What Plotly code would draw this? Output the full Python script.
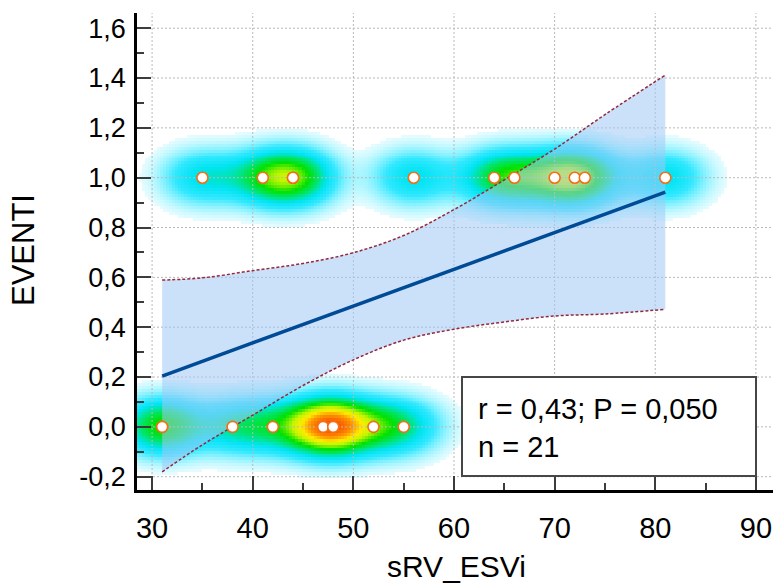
import numpy as np
import plotly.graph_objects as go

# ---- data ----
x_event0 = [31, 31, 38, 42, 47, 47, 48, 48, 52, 55]
x_event1 = [35, 41, 44, 44, 56, 64, 66, 70, 72, 73, 81]

fit_x = [31, 35, 40, 45, 50, 55, 60, 65, 70, 75, 81]
fit_y = [0.204, 0.263, 0.337, 0.411, 0.484, 0.558, 0.632, 0.706, 0.780, 0.853, 0.942]
ci_upper = [0.589, 0.598, 0.627, 0.656, 0.699, 0.768, 0.872, 0.991, 1.115, 1.253, 1.412]
ci_lower = [-0.181, -0.072, 0.047, 0.166, 0.269, 0.348, 0.392, 0.421, 0.445, 0.453, 0.472]

x_ticks = [30, 40, 50, 60, 70, 80, 90]
y_ticks = [-0.2, 0.0, 0.2, 0.4, 0.6, 0.8, 1.0, 1.2, 1.4, 1.6]
y_ticktext = ["-0,2", "0,0", "0,2", "0,4", "0,6", "0,8", "1,0", "1,2", "1,4", "1,6"]

stats_line1 = "r = 0,43; P = 0,050"
stats_line2 = "n = 21"
x_title = "sRV_ESVi"
y_title = "EVENTI"

X_RANGE = [28.5, 91.7]
Y_RANGE = [-0.2534, 1.661]

# ---- point density (kernel estimate from the points) ----
px = np.array(x_event0 + x_event1, dtype=float)
py = np.array([0.0] * len(x_event0) + [1.0] * len(x_event1))
gx = np.arange(X_RANGE[0] - 0.3, X_RANGE[1] + 0.6, 0.3)
gy = np.arange(Y_RANGE[0] - 0.02, Y_RANGE[1] + 0.02, 0.012)
GX, GY = np.meshgrid(gx, gy)
sx, sy = 2.7, 0.074
Z = np.zeros_like(GX)
for a, b in zip(px, py):
    Z += np.exp(-0.5 * (((GX - a) / sx) ** 2 + ((GY - b) / sy) ** 2))
thr = 0.07
zmax = 4.6
Z = np.where(Z < thr, np.nan, np.minimum(Z, zmax))
stops = [
    (thr, "rgb(230,252,255)"),
    (0.25, "rgb(165,245,255)"),
    (0.6, "rgb(50,232,255)"),
    (1.0, "rgb(0,228,242)"),
    (1.5, "rgb(0,228,100)"),
    (1.95, "rgb(0,225,0)"),
    (2.6, "rgb(195,245,0)"),
    (3.1, "rgb(255,235,0)"),
    (3.6, "rgb(255,150,0)"),
    (zmax, "rgb(245,50,0)"),
]
cs = [[(v - thr) / (zmax - thr), c] for v, c in stops]

fig = go.Figure()
fig.add_trace(go.Heatmap(x=gx, y=gy, z=Z, zmin=thr, zmax=zmax, colorscale=cs,
                         showscale=False, zsmooth=False, hoverinfo="skip"))

# grid lines (drawn above the density, like the reference)
for xv in x_ticks:
    fig.add_trace(go.Scatter(x=[xv, xv], y=Y_RANGE, mode="lines",
                             line=dict(color="rgb(185,185,185)", width=1, dash="2px,2px"),
                             hoverinfo="skip", showlegend=False))
for yv in y_ticks:
    fig.add_trace(go.Scatter(x=X_RANGE, y=[yv, yv], mode="lines",
                             line=dict(color="rgb(185,185,185)", width=1, dash="2px,2px"),
                             hoverinfo="skip", showlegend=False))

# confidence band
fig.add_trace(go.Scatter(x=fit_x, y=ci_upper, mode="lines", line=dict(width=0, shape="spline"),
                         hoverinfo="skip", showlegend=False))
fig.add_trace(go.Scatter(x=fit_x, y=ci_lower, mode="lines", line=dict(width=0, shape="spline"),
                         fill="tonexty", fillcolor="rgba(160,201,246,0.55)",
                         hoverinfo="skip", showlegend=False))
for yy in (ci_upper, ci_lower):
    fig.add_trace(go.Scatter(x=fit_x, y=yy, mode="lines",
                             line=dict(color="rgb(150,40,60)", width=1.5, dash="3px,2px", shape="spline"),
                             showlegend=False))
# regression line
fig.add_trace(go.Scatter(x=fit_x, y=fit_y, mode="lines",
                         line=dict(color="rgb(0,75,150)", width=3.5), showlegend=False))
# points
fig.add_trace(go.Scatter(x=px, y=py, mode="markers",
                         marker=dict(size=11, color="white",
                                     line=dict(color="rgb(245,110,20)", width=1.6)),
                         showlegend=False))

L, R, T, B = 137, 0, 13, 94
W, H = 773, 584
pw, ph = W - L - R, H - T - B

def fx(p):
    return (p - L) / pw

def fy(p):
    return (H - B - p) / ph

fig.add_shape(type="rect", xref="paper", yref="paper",
              x0=fx(462), x1=fx(756), y0=fy(476), y1=fy(377),
              line=dict(color="rgb(70,70,70)", width=2), fillcolor="white", layer="above")
fig.add_annotation(xref="paper", yref="paper", x=fx(476), y=fy(409), text=stats_line1,
                   showarrow=False, xanchor="left", yanchor="middle",
                   font=dict(size=29, color="black"))
fig.add_annotation(xref="paper", yref="paper", x=fx(476), y=fy(447), text=stats_line2,
                   showarrow=False, xanchor="left", yanchor="middle",
                   font=dict(size=29, color="black"))
# axis titles
fig.add_annotation(xref="paper", yref="paper", x=fx(456), y=fy(583.5), text=x_title,
                   showarrow=False, xanchor="center", yanchor="bottom", borderpad=0,
                   font=dict(size=30, color="black"))
fig.add_annotation(xref="paper", yref="paper", x=fx(23), y=fy(250), text=y_title,
                   showarrow=False, xanchor="center", yanchor="middle", textangle=-90,
                   font=dict(size=31, color="black"))

fig.update_layout(
    width=W, height=H,
    margin=dict(l=L, r=R, t=T, b=B, pad=0),
    paper_bgcolor="white", plot_bgcolor="white",
    font=dict(family="Liberation Sans, Arial, sans-serif", color="black"),
    separators=",.",
    showlegend=False,
)
fig.update_xaxes(
    range=X_RANGE, tickvals=x_ticks, showgrid=False, zeroline=False,
    showline=True, linecolor="black", linewidth=2.5,
    ticks="inside", ticklen=14, tickwidth=2, tickcolor="rgb(60,60,60)",
    tickfont=dict(size=29), ticklabelstandoff=10,
    minor=dict(dtick=5, tick0=30, ticks="inside", ticklen=7, tickwidth=2,
               tickcolor="rgb(60,60,60)", showgrid=False),
    automargin=False,
)
fig.update_yaxes(
    range=Y_RANGE, tickvals=y_ticks, ticktext=y_ticktext, showgrid=False, zeroline=False,
    showline=True, linecolor="black", linewidth=2.5,
    ticks="inside", ticklen=14, tickwidth=2, tickcolor="rgb(60,60,60)",
    tickfont=dict(size=27), ticklabelstandoff=3,
    minor=dict(dtick=0.1, tick0=0, ticks="inside", ticklen=7, tickwidth=2,
               tickcolor="rgb(60,60,60)", showgrid=False),
    automargin=False,
)

fig.write_html("out.html")
